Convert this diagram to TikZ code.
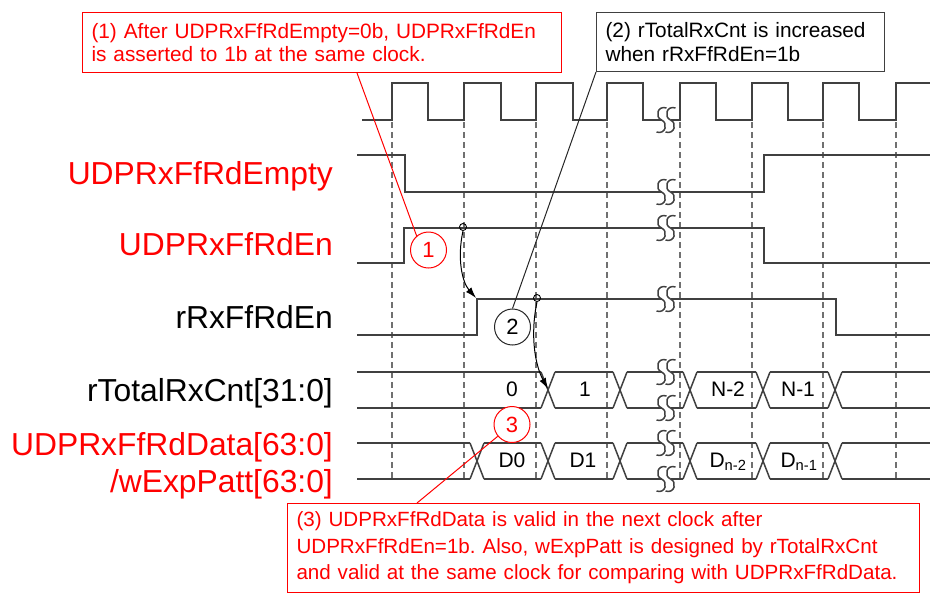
\documentclass[tikz,border=0pt]{standalone}
\usepackage{fontspec}
\setmainfont{Liberation Sans}
\usetikzlibrary{arrows.meta,calc}
\definecolor{wavec}{HTML}{404040}
\definecolor{dashc}{HTML}{707070}
\definecolor{redc}{HTML}{FF0000}
\frenchspacing
\begin{document}
\begin{tikzpicture}[x=1pt,y=-1pt,
  wave/.style={draw=wavec, line width=1.5pt},
  gridline/.style={draw=dashc, line width=1.3pt, dash pattern=on 6pt off 4pt},
  siglab/.style={anchor=base east, inner sep=0pt, font=\fontsize{31.8}{37}\selectfont},
  vallab/.style={anchor=base, inner sep=0pt, text=black, font=\fontsize{21}{25}\selectfont},
  num/.style={circle, draw, line width=1pt, minimum size=36pt, inner sep=0pt, fill=white, font=\fontsize{22}{26}\selectfont},
  dotmark/.style={circle, draw=black, line width=0.9pt, minimum size=7pt, inner sep=0pt},
  note/.style={draw, line width=1pt, fill=white, anchor=north west, align=left, inner xsep=9pt, inner ysep=0pt},
  arr/.style={-{Latex[length=11pt,width=7pt]}, line width=1pt, black},
  brk/.pic={
    \fill[white] (-4.5,-2.5) rectangle (4.5,2.5);
    \foreach \d in {-4.5,4.5}
      \draw[wavec, line width=1.5pt] (\d+5,-12) .. controls (\d-4,-15) and (\d-7,-3) .. (\d,0) .. controls (\d+7,3) and (\d+4,15) .. (\d-5,12);
  }
]
\useasboundingbox (0,0) rectangle (933,595);

% grid lines at rising edges
\foreach \x in {392,464,536,607,680,752,823,896}
  \draw[gridline] (\x,122) -- (\x,480);

% clock
\draw[wave] (362,120) -- (392,120) -- (392,83) -- (428,83) -- (428,120) -- (464,120) -- (464,83) -- (501,83) -- (501,120) -- (536,120) -- (536,83) -- (573,83) -- (573,120) -- (607,120) -- (607,83) -- (643,83) -- (643,120) -- (680,120) -- (680,83) -- (716,83) -- (716,120) -- (752,120) -- (752,83) -- (788,83) -- (788,120) -- (823,120) -- (823,83) -- (859,83) -- (859,120) -- (896,120) -- (896,83) -- (930,83);

% single-bit signals
\draw[wave] (357,155) -- (405,155) -- (405,192) -- (764,192) -- (764,155) -- (930,155);
\draw[wave] (357,263) -- (404,263) -- (404,228) -- (764,228) -- (764,263) -- (930,263);
\draw[wave] (357,335) -- (477,335) -- (477,299) -- (836,299) -- (836,335) -- (930,335);

% rTotalRxCnt bus
\foreach \a/\b in {357/541,555/613,627/683,697/756,770/828,842/930}
  \draw[wave] (\a,372) -- (\b,372) (\a,408) -- (\b,408);
\foreach \c in {548,620,690,763,835}
  \draw[wave] (\c-7,372) -- (\c+7,408) (\c-7,408) -- (\c+7,372);

% data bus
\foreach \a/\b in {357/470,484/541,555/613,627/683,697/756,770/828,842/930}
  \draw[wave] (\a,443) -- (\b,443) (\a,479) -- (\b,479);
\foreach \c in {477,548,620,690,763,835}
  \draw[wave] (\c-7,443) -- (\c+7,479) (\c-7,479) -- (\c+7,443);

% breaks
\foreach \y in {120,192,228,299,372,408,443,479}
  \pic at (666,\y) {brk};

% signal labels
\node[siglab, text=redc] (l1) at (333,184) {UDPRxFfRdEmpty};
\node[siglab, text=redc] (l2) at (333,255) {UDPRxFfRdEn};
\node[siglab, text=black] (l3) at (333,328) {rRxFfRdEn};
\node[siglab, text=black] (l4) at (333,401) {rTotalRxCnt[31:0]};
\node[siglab, text=redc] (l5) at (333,455) {UDPRxFfRdData[63:0]};
\node[siglab, text=redc] (l6) at (333,492) {/wExpPatt[63:0]};

% values
\node[vallab] (v0) at (512,396) {0};
\node[vallab] (v1) at (585,396) {1};
\node[vallab] (v2) at (728,396) {N-2};
\node[vallab] (v3) at (798,396) {N-1};
\node[vallab] (w0) at (512,467) {D0};
\node[vallab] (w1) at (583,467) {D1};
\node[vallab] (w2) at (728,467) {D\textsubscript{n-2}};
\node[vallab] (w3) at (799,467) {D\textsubscript{n-1}};

% causal arrows
\node[dotmark] (d1) at (463,227) {};
\node[dotmark] (d2) at (537,298) {};
\coordinate (t1) at (476,298);
\coordinate (t2) at (548,389);
\draw[arr] (d1.south) .. controls (457,258) and (462,282) .. (t1);
\draw[arr] (d2.south) .. controls (530,335) and (535,365) .. (t2);

% numbered circles
\node[num, draw=redc, text=redc] (c1) at (428.5,250) {1};
\node[num, draw=black!85, text=black] (c2) at (512.5,327) {2};
\node[num, draw=redc, text=redc] (c3) at (512,424.5) {3};

% notes
\node[note, draw=redc, text=redc, minimum width=479pt, minimum height=60pt, text width=461pt, font=\fontsize{20.8}{23}\selectfont] (b1) at (82,12)
  {(1) After UDPRxFfRdEmpty=0b, UDPRxFfRdEn\\is asserted to 1b at the same clock.};
\node[note, draw=wavec, text=black, minimum width=288pt, minimum height=59pt, text width=270pt, font=\fontsize{20.8}{24}\selectfont] (b2) at (596,12)
  {(2) rTotalRxCnt is increased\\when rRxFfRdEn=1b};
\node[note, draw=redc, text=redc, minimum width=632pt, minimum height=89pt, text width=614pt, font=\fontsize{20.6}{26.5}\selectfont] (b3) at (287,503)
  {(3) UDPRxFfRdData is valid in the next clock after\\UDPRxFfRdEn=1b. Also, wExpPatt is designed by rTotalRxCnt\\and valid at the same clock for comparing with UDPRxFfRdData.};

% leader lines
\draw[redc, line width=1pt] ($(b1.south west)+(275,0)$) -- (c1.130);
\draw[black!85, line width=1pt] (b2.south west) -- (c2.north);
\draw[redc, line width=1pt] ($(b3.north west)+(130,0)$) -- (c3);
\end{tikzpicture}
\end{document}
